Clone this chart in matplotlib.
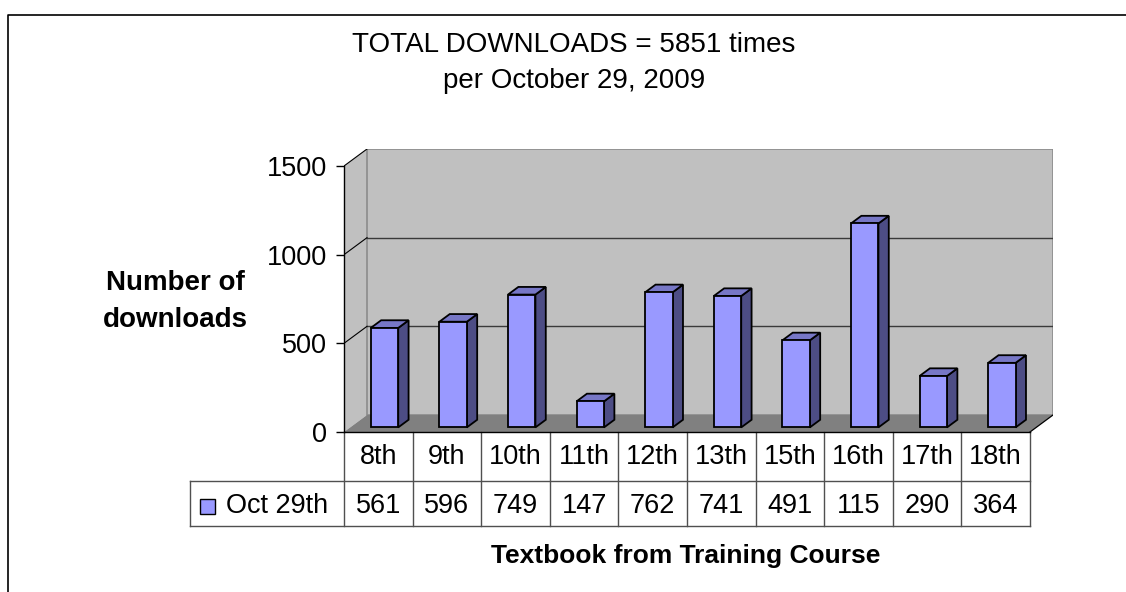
import matplotlib
matplotlib.use('Agg')
import matplotlib.pyplot as plt
from matplotlib.patches import Polygon, Rectangle
from matplotlib.lines import Line2D

# ---------------- data ----------------
categories = ['8th', '9th', '10th', '11th', '12th', '13th', '15th', '16th', '17th', '18th']
downloads = [561, 596, 749, 147, 762, 741, 491, 1150, 290, 364]
series_name = 'Oct 29th'
yticks = [0, 500, 1000, 1500]
title_lines = ['TOTAL DOWNLOADS = 5851 times', 'per October 29, 2009']
ylabel_lines = ['Number of', 'downloads']
xlabel = 'Textbook from Training Course'

# ---------------- style ----------------
plt.rcParams['font.family'] = ['Liberation Sans', 'DejaVu Sans']
FRONT = '#9999FF'
TOP = '#7777C6'
SIDE = '#4D4D85'
WALL = '#C0C0C0'
FLOOR = '#808080'
GRID = '#3A3A3A'
TABLE_LINE = '#505050'
FS = 19.5

W, H = 1126, 592
fig = plt.figure(figsize=(W / 100, H / 100), dpi=100)
fig.patch.set_facecolor('white')


def fx(px):
    return px / W


def fy(py):
    return 1 - py / H


# outer chart frame (left and top edges)
fig.add_artist(Line2D([fx(8), fx(8), fx(1126)], [fy(592), fy(15), fy(15)],
                      transform=fig.transFigure, color='black', lw=1.2))

n = len(categories)
COLW = 68.6                      # px per category
PXU = (432 - 166) / 1500.0       # px per value unit
DX = 23 / COLW                   # depth offset (category units)
DY = 17 / PXU                    # depth offset (value units)
YMAX = yticks[-1]

ax = fig.add_axes([fx(344), fy(432), fx(344 + (n + DX) * COLW) - fx(344),
                   fy(432 - (YMAX + DY) * PXU) - fy(432)])
ax.set_xlim(0, n + DX)
ax.set_ylim(0, YMAX + DY)
ax.patch.set_visible(False)

# walls and floor
ax.add_patch(Polygon([(0, 0), (DX, DY), (DX, YMAX + DY), (0, YMAX)],
                     closed=True, facecolor=WALL, edgecolor='none', zorder=1))
ax.add_patch(Polygon([(DX, DY), (n + DX, DY), (n + DX, YMAX + DY), (DX, YMAX + DY)],
                     closed=True, facecolor=WALL, edgecolor='#8C8C8C', lw=1.2, zorder=1))
ax.add_patch(Polygon([(0, 0), (n, 0), (n + DX, DY), (DX, DY)],
                     closed=True, facecolor=FLOOR, edgecolor='none', zorder=2))
ax.plot([n, n + DX], [0, DY], color='black', lw=0.9, zorder=2)

# gridlines (back wall + side wall diagonals)
for v in yticks[1:]:
    if v < YMAX:
        ax.plot([DX, n + DX], [v + DY, v + DY], color=GRID, lw=1.0, zorder=1.5)
    ax.plot([0, DX], [v, v + DY], color='black', lw=0.8, zorder=1.5)

# 3D bars
z0, z1 = 0.27, 0.72
dz = z1 - z0
for i, v in enumerate(downloads):
    x0 = i + 0.30 + z0 * DX
    x1 = i + 0.70 + z0 * DX
    y0 = z0 * DY
    y1 = v + z0 * DY
    ox, oy = dz * DX, dz * DY
    ax.add_patch(Polygon([(x1, y0), (x1 + ox, y0 + oy), (x1 + ox, y1 + oy), (x1, y1)],
                         closed=True, facecolor=SIDE, edgecolor='black', lw=1.3, zorder=3))
    ax.add_patch(Polygon([(x0, y1), (x1, y1), (x1 + ox, y1 + oy), (x0 + ox, y1 + oy)],
                         closed=True, facecolor=TOP, edgecolor='black', lw=1.3, zorder=3))
    ax.add_patch(Rectangle((x0, y0), x1 - x0, y1 - y0,
                           facecolor=FRONT, edgecolor='black', lw=1.3, zorder=4))

# axes spines / ticks
for s in ['top', 'right']:
    ax.spines[s].set_visible(False)
ax.spines['left'].set_bounds(0, YMAX)
ax.spines['bottom'].set_bounds(0, n)
ax.spines['left'].set_linewidth(1.0)
ax.spines['bottom'].set_linewidth(1.0)
ax.spines['left'].set_zorder(5)
ax.spines['bottom'].set_zorder(5)
ax.set_yticks(yticks)
ax.set_yticklabels([str(t) for t in yticks])
ax.set_xticks([])
ax.tick_params(axis='y', length=6, width=1.0, direction='out', labelsize=FS, pad=6)

# data table below the floor
r1 = -(480.5 - 432) / PXU
r2 = -(526 - 432) / PXU
leg_left = (190 - 344) / COLW
tl = dict(color=TABLE_LINE, lw=1.0, clip_on=False, zorder=5)
for k in range(n + 1):
    ax.plot([k, k], [0, r2], **tl)
ax.plot([leg_left, n], [r1, r1], **tl)
ax.plot([leg_left, n], [r2, r2], **tl)
ax.plot([leg_left, leg_left], [r1, r2], **tl)

row1_c = -(457 - 432) / PXU
row2_c = -(506 - 432) / PXU
for i, (c, v) in enumerate(zip(categories, downloads)):
    ax.text(i + 0.5, row1_c, c, ha='center', va='center', fontsize=FS, clip_on=False)
    # the table cell clips the value to three characters, as in the original
    ax.text(i + 0.5, row2_c, str(v)[:3], ha='center', va='center', fontsize=FS, clip_on=False)

# legend key in table
sq = 15
ax.add_patch(Rectangle(((200 - 344) / COLW, row2_c - (sq / 2) / PXU), sq / COLW, sq / PXU,
                       facecolor=FRONT, edgecolor='black', lw=1.0, clip_on=False, zorder=6))
ax.text((226 - 344) / COLW, row2_c, series_name, ha='left', va='center',
        fontsize=FS, clip_on=False)

# titles and labels
fig.text(fx(574), fy(45), title_lines[0], ha='center', va='center', fontsize=20)
fig.text(fx(574), fy(81), title_lines[1], ha='center', va='center', fontsize=20)
fig.text(fx(175), fy(283), ylabel_lines[0], ha='center', va='center', fontsize=20,
         fontweight='bold')
fig.text(fx(175), fy(320), ylabel_lines[1], ha='center', va='center', fontsize=20,
         fontweight='bold')
fig.text(fx(686), fy(556), xlabel, ha='center', va='center', fontsize=19,
         fontweight='bold')

fig.savefig('out.png', dpi=100, facecolor='white')
